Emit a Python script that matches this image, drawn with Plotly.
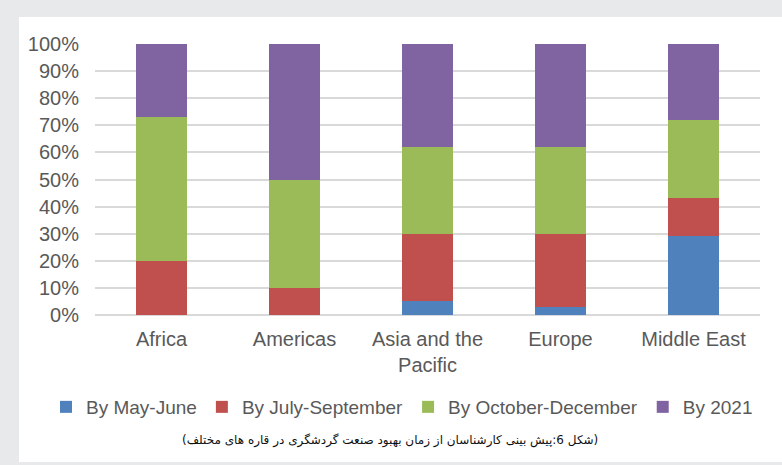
import plotly.graph_objects as go

categories = ["Africa", "Americas", "Asia and the<br>Pacific", "Europe", "Middle East"]
series_names = ["By May-June", "By July-September", "By October-December", "By 2021"]
may_june = [0, 0, 5, 3, 29]
july_sep = [20, 10, 25, 27, 14]
oct_dec = [53, 40, 32, 32, 29]
by_2021 = [27, 50, 38, 38, 28]
colors = ["#4F81BD", "#C0504D", "#9BBB59", "#8064A2"]
tick_vals = [0, 0.1, 0.2, 0.3, 0.4, 0.5, 0.6, 0.7, 0.8, 0.9, 1.0]
tick_text = ["0%", "10%", "20%", "30%", "40%", "50%", "60%", "70%", "80%", "90%", "100%"]
caption = "(شکل 6:پیش بینی کارشناسان از زمان بهبود صنعت گردشگری در قاره های مختلف)"

fig = go.Figure()
for name, vals, col in zip(series_names, [may_june, july_sep, oct_dec, by_2021], colors):
    fig.add_trace(go.Bar(x=categories, y=[v / 100 for v in vals], name=name,
                         marker=dict(color=col, line=dict(width=0)), width=0.39))

W, H = 782, 465
L, R, T, B = 95, 22, 44, 150
PW, PH = W - L - R, H - T - B

fig.update_layout(
    width=W, height=H,
    barmode="stack",
    margin=dict(l=L, r=R, t=T, b=B, autoexpand=False),
    paper_bgcolor="#e8e9eb",
    plot_bgcolor="white",
    font=dict(family="Liberation Sans, Arial, sans-serif", color="#595959", size=19),
    showlegend=True,
    legend=dict(orientation="h", x=(46 - L) / PW, xanchor="left", y=(T + PH - 407) / PH, yanchor="middle",
                font=dict(size=19, color="#595959"), traceorder="normal",
                itemwidth=30, bgcolor="rgba(0,0,0,0)"),
    xaxis=dict(showline=False, ticks="", tickfont=dict(size=20, color="#595959"),
               showgrid=False, ticklabelstandoff=10),
    yaxis=dict(range=[0, 1.0], tickvals=tick_vals, ticktext=tick_text,
               showgrid=True, gridcolor="#d9d9d9", gridwidth=1.5,
               zeroline=True, zerolinecolor="#d9d9d9", zerolinewidth=1.5,
               tickfont=dict(size=20, color="#595959"), ticks="", ticklabelstandoff=15),
    shapes=[dict(type="rect", xref="paper", yref="paper", layer="below",
                 x0=(19 - L) / PW, x1=(W - L) / PW, y0=(T + PH - 462) / PH, y1=(T + PH - 17) / PH,
                 fillcolor="white", line=dict(width=0))],
    annotations=[dict(text=caption, xref="paper", yref="paper", x=(390 - L) / PW, y=(T + PH - 440) / PH,
                      xanchor="center", yanchor="middle", showarrow=False,
                      font=dict(family="DejaVu Sans", size=12, color="#111111"))],
)

fig.write_html("out.html", config={"displayModeBar": False},
               post_script="document.body.style.margin='0';")
